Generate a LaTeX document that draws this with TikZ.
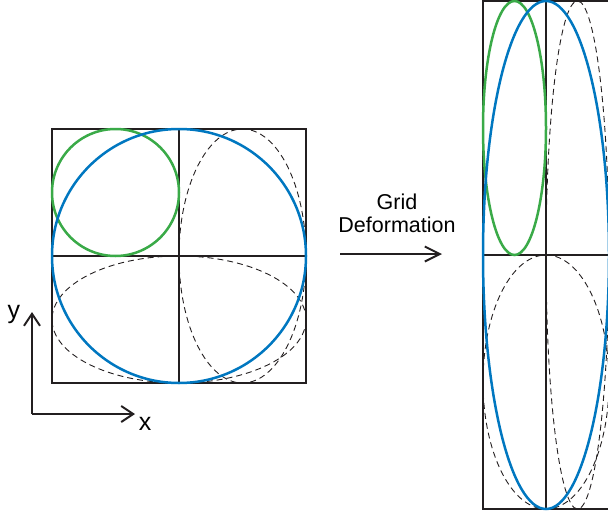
\documentclass[tikz,border=0pt]{standalone}
\usepackage{fontspec}
\setmainfont{Liberation Sans}
\usetikzlibrary{arrows.meta}
\definecolor{cblue}{RGB}{0,119,192}
\definecolor{cgreen}{RGB}{58,170,72}
\definecolor{cframe}{RGB}{35,31,32}
\begin{document}
\begin{tikzpicture}[x=1pt,y=-1pt,
  frame/.style={draw=cframe,line width=2.4pt},
  bluec/.style={draw=cblue,line width=2.5pt},
  greenc/.style={draw=cgreen,line width=2.5pt},
  dashc/.style={draw=cframe,line width=0.9pt,dash pattern=on 6pt off 4pt},
  axis/.style={draw=cframe,line width=2pt,-{Straight Barb[length=12pt,width=16pt,line width=2pt]}},
  lbl/.style={inner sep=0pt,font=\fontsize{25}{30}\selectfont}]
\useasboundingbox (0,0) rectangle (608,514);
% left grid
\draw[frame] (52,129) rectangle (306,383);
\draw[frame] (179,129) -- (179,383);
\draw[frame] (52,256) -- (306,256);
\draw[dashc] (242.5,256) ellipse [x radius=63.5, y radius=127];
\draw[dashc] (179,319.5) ellipse [x radius=127, y radius=63.5];
\draw[greenc] (115.5,192.5) circle [radius=63.5];
\draw[bluec] (179,256) circle [radius=127];
% right grid
\draw[frame] (483,1) rectangle (609,509);
\draw[frame] (546,1) -- (546,509);
\draw[frame] (483,255) -- (609,255);
\draw[dashc] (577.5,255) ellipse [x radius=31.5, y radius=254];
\draw[dashc] (546,382) ellipse [x radius=63, y radius=127];
\draw[greenc] (514.5,128) ellipse [x radius=31.5, y radius=127];
\draw[bluec] (546,255) ellipse [x radius=63, y radius=254];
% axes
\coordinate (o) at (32,414);
\coordinate (ytip) at (32,312);
\coordinate (xtip) at (135,414);
\draw[axis] (o) -- (ytip);
\draw[axis] (o) -- (xtip);
\node[lbl] (ylab) at (14,314) {y};
\node[lbl] (xlab) at (145,424) {x};
% deformation arrow
\coordinate (as) at (340,254);
\coordinate (ae) at (442,254);
\draw[draw=cframe,line width=2pt,-{Straight Barb[length=15pt,width=15pt,line width=2pt]}] (as) -- (ae);
\node[align=center,inner sep=0pt,font=\fontsize{21.5}{23}\selectfont] (gd) at (397,213) {Grid\\Deformation};
\end{tikzpicture}
\end{document}
